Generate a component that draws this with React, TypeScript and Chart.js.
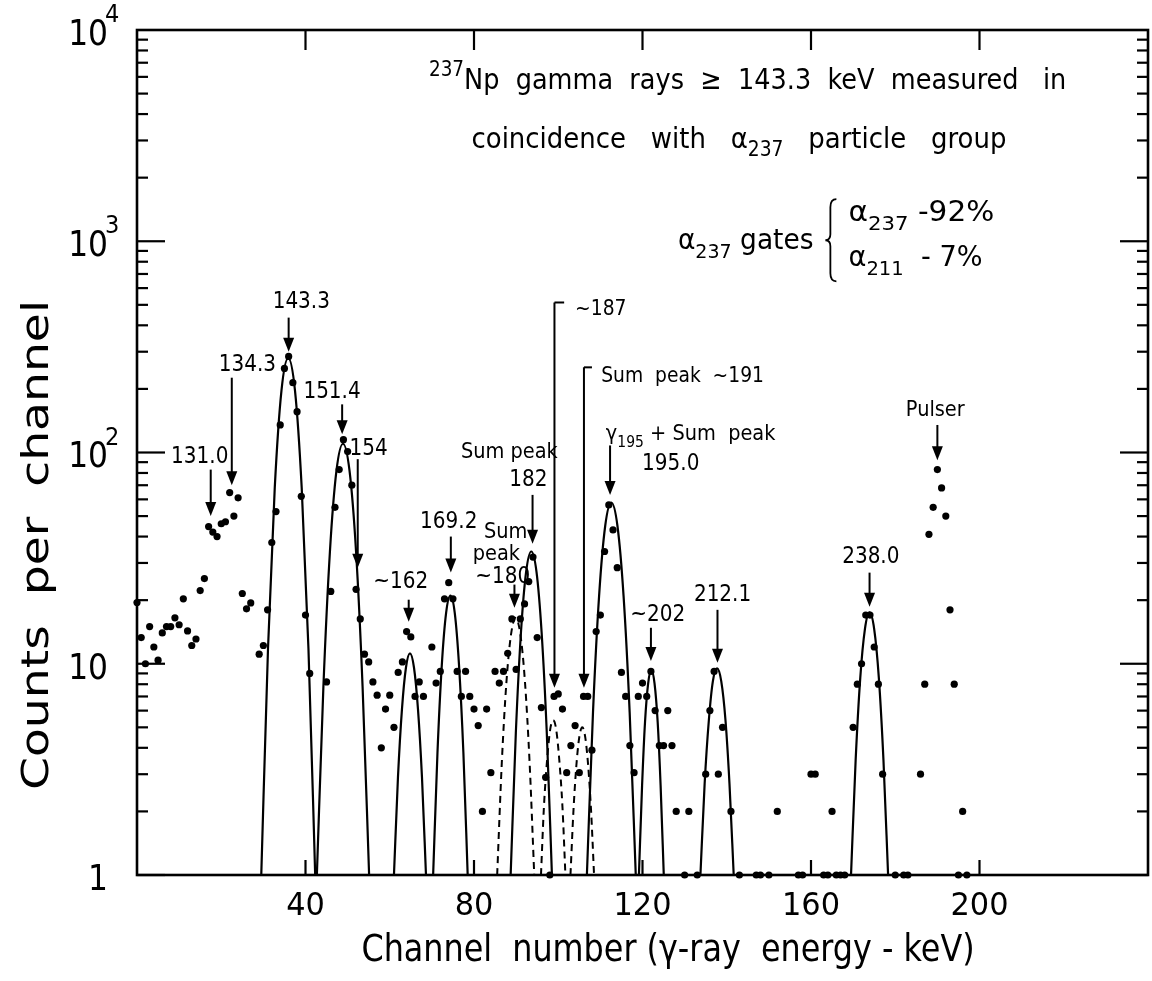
import React, { useEffect, useRef } from "react";
import { Chart, registerables } from "chart.js";
Chart.register(...registerables);

const FONT = '"DejaVu Sans", "Liberation Sans", sans-serif';

// ---- measured spectrum (channel, counts per channel) ----
const channels = [
  0, 1, 2, 3, 4, 5, 6, 7, 8, 9, 10, 11, 12, 13, 14, 15, 16, 17, 18, 19, 20, 21, 22, 23, 24, 25, 26, 27,
  29, 30, 31, 32, 33, 34, 35, 36, 37, 38, 39, 40, 41,
  45, 46, 47, 48, 49, 50, 51, 52, 53, 54, 55, 56, 57, 58, 59, 60, 61, 62, 63, 64, 65, 66, 67, 68,
  70, 71, 72, 73, 74, 75, 76, 77, 78, 79, 80, 81, 82, 83, 84, 85, 86, 87, 88, 89, 90, 91, 92, 93, 94,
  95, 96, 97, 98, 99, 100, 101, 102, 103, 104, 105, 106, 107, 108, 109, 110, 111, 112, 113, 114, 115,
  116, 117, 118, 119, 120, 121, 122, 123, 124, 125, 126, 127, 128, 130, 131, 133, 135, 136, 137, 138,
  139, 141, 143, 147, 148, 150, 152, 157, 158, 160, 161, 163, 164, 165, 166, 167, 168,
  170, 171, 172, 173, 174, 175, 176, 177, 180, 182, 183,
  186, 187, 188, 189, 190, 191, 192, 193, 194, 195, 196, 197,
];
const counts = [
  19.5, 13.3, 10, 15, 12, 10.4, 14, 15, 15, 16.5, 15.3, 20.3, 14.3, 12.2, 13.1, 22.2, 25.3, 44.6, 42, 40, 46, 47, 64.6, 50, 61, 21.5, 18.2, 19.4,
  11.1, 12.2, 18, 37.5, 52.5, 135, 250, 285, 214, 156, 62, 17, 9,
  8.2, 22, 55, 83, 115, 101, 70, 22.5, 16.3, 11.1, 10.2, 8.2, 7.1, 4.0, 6.1, 7.1, 5, 9.1, 10.2, 14.2, 13.4, 7.0, 8.2, 7.0,
  12, 8.1, 9.2, 20.3, 24.2, 20.3, 9.2, 7, 9.2, 7, 6.1, 5.1, 2.0, 6.1, 3.05, 9.2, 8.1, 9.2, 11.2, 16.3, 9.4, 16.3, 19.2, 24.5, 32,
  13.3, 6.2, 2.9, 1.0, 7.0, 7.2, 6.1, 3.05, 4.1, 5.1, 3.05, 7, 7, 3.9, 14.2, 17, 34, 56.5, 43, 28.5, 9.1,
  7, 4.1, 3.05, 7, 8.1, 7, 9.2, 6, 4.1, 4.1, 6, 4.1, 2, 1, 2, 1, 3, 6, 9.2, 3,
  5, 2, 1, 1, 1, 1, 2, 1, 1, 3, 3, 1, 1, 2, 1, 1, 1,
  5, 8, 10, 17, 17, 12, 8, 3, 1, 1, 1,
  3, 8, 41, 55, 83, 68, 50, 18, 8, 1, 2, 1,
];

// ---- fitted peak shapes (channel, counts) ----
const fit1433X = [29.5, 31.1, 32.7, 34.3, 35.9, 37.5, 39.1, 40.7, 42.3];
const fit1433Y = [1, 11.8, 68, 197, 280, 197, 68, 11.8, 1];
const fit1514X = [42.7, 44.25, 45.8, 47.35, 48.9, 50.45, 52.0, 53.55, 55.1];
const fit1514Y = [1, 7.8, 34, 82, 110, 82, 34, 7.8, 1];
const fit162X = [61.0, 61.95, 62.9, 63.85, 64.8, 65.75, 66.7, 67.65, 68.6];
const fit162Y = [1, 2.9, 6.1, 9.6, 11.2, 9.6, 6.1, 2.9, 1];
const fit1692X = [70.3, 71.33, 72.35, 73.38, 74.4, 75.43, 76.45, 77.48, 78.5];
const fit1692Y = [1, 3.8, 9.8, 17.4, 21, 17.4, 9.8, 3.8, 1];
const fit182X = [88.7, 89.93, 91.15, 92.38, 93.6, 94.83, 96.05, 97.28, 98.5];
const fit182Y = [1, 4.7, 14.1, 27.3, 34, 27.3, 14.1, 4.7, 1];
const fit195X = [106.8, 108.25, 109.7, 111.15, 112.6, 114.05, 115.5, 116.95, 118.4];
const fit195Y = [1, 5.9, 21, 45, 58, 45, 21, 5.9, 1];
const fit202X = [119.15, 119.9, 120.6, 121.35, 122.1, 122.85, 123.6, 124.3, 125.05];
const fit202Y = [1, 2.65, 5.3, 8.1, 9.3, 8.1, 5.3, 2.65, 1];
const fit2121X = [133.75, 134.75, 135.75, 136.7, 137.7, 138.7, 139.7, 140.65, 141.65];
const fit2121Y = [1, 2.7, 5.4, 8.25, 9.5, 8.25, 5.4, 2.7, 1];
const fit238X = [169.5, 170.6, 171.7, 172.8, 173.9, 175.0, 176.1, 177.2, 178.3];
const fit238Y = [1, 3.5, 8.6, 14.6, 17.5, 14.6, 8.6, 3.5, 1];
// dashed (sum peaks)
const fit180X = [85.5, 86.6, 87.7, 88.8, 89.9, 91.0, 92.1, 93.2, 94.3];
const fit180Y = [1, 3.4, 8.2, 13.8, 16.5, 13.8, 8.2, 3.4, 1];
const fit187X = [95.9, 96.6, 97.35, 98.1, 98.8, 99.5, 100.25, 101.0, 101.7];
const fit187Y = [1, 2.1, 3.5, 4.9, 5.4, 4.9, 3.5, 2.1, 1];
const fit191X = [102.9, 103.6, 104.3, 105.0, 105.7, 106.4, 107.1, 107.8, 108.5];
const fit191Y = [1, 2.0, 3.3, 4.5, 5.0, 4.5, 3.3, 2.0, 1];

const solidFits = [
  [fit1433X, fit1433Y], [fit1514X, fit1514Y], [fit162X, fit162Y], [fit1692X, fit1692Y],
  [fit182X, fit182Y], [fit195X, fit195Y], [fit202X, fit202Y], [fit2121X, fit2121Y], [fit238X, fit238Y],
];
const dashedFits = [[fit180X, fit180Y], [fit187X, fit187Y], [fit191X, fit191Y]];

// ---- axes ----
const xTickVals = [40, 80, 120, 160, 200];
const yTickVals = [1, 10, 100, 1000, 10000];
const yTickBase = ["1", "10", "10", "10", "10"];
const yTickSup = ["", "", "2", "3", "4"];

// ---- peak annotations (channel, counts) ----
const labelText = ["131.0", "134.3", "143.3", "151.4", "154", "~162", "169.2", "Sum", "peak", "~180",
  "Sum peak", "182", "~202", "212.1", "238.0", "Pulser"];
const labelX = [14.9, 26.2, 39.0, 46.3, 55.0, 62.6, 74.0, 87.5, 85.3, 86.8, 88.4, 92.9, 123.6, 139.0, 174.2, 189.5];
const labelY = [98, 267, 531, 199, 107, 25, 48, 43, 33.6, 26.4, 103, 76, 17.4, 21.7, 32.8, 163];

const arrowX = [17.5, 22.5, 36.0, 48.7, 52.4, 64.5, 74.5, 89.6, 93.9, 112.3, 122.0, 137.8, 173.9, 190.0];
const arrowTop = [83, 226, 435, 169, 93, 20.1, 40, 23.7, 63, 108, 14.8, 18, 27, 135];
const arrowTip = [50, 70, 300, 122, 28.5, 15.8, 27, 18.4, 37, 63, 10.3, 10.1, 18.6, 92];

const bracketX = [99.1, 106.1];
const bracketEnd = [101.4, 108.0];
const bracketTop = [513, 253];
const bracketTip = [7.7, 7.7];
const bracketLabel = ["~187", "Sum  peak  ~191"];
const bracketLabelX = [104.0, 110.2];
const bracketLabelY = [490, 234];

type Seg = { t: string; k?: "sub" | "sup" };

function segWidths(ctx: CanvasRenderingContext2D, segs: Seg[], size: number) {
  return segs.map((s) => {
    const fs = s.k ? size * 0.72 : size;
    ctx.font = `${fs}px ${FONT}`;
    return { ...s, fs, w: ctx.measureText(s.t).width };
  });
}

function drawSegs(
  ctx: CanvasRenderingContext2D, segs: Seg[], x: number, yc: number, size: number,
  sx: number, align: "left" | "center" | "right", fitW?: number
) {
  const items = segWidths(ctx, segs, size);
  const nat = items.reduce((a, b) => a + b.w, 0);
  if (fitW) sx = fitW / nat;
  const W = nat * sx;
  let cx = align === "center" ? x - W / 2 : align === "right" ? x - W : x;
  const base = yc + size * 0.36;
  for (const it of items) {
    ctx.save();
    ctx.font = `${it.fs}px ${FONT}`;
    ctx.textBaseline = "alphabetic";
    ctx.textAlign = "left";
    const dy = it.k === "sub" ? size * 0.3 : it.k === "sup" ? -size * 0.45 : 0;
    ctx.translate(cx, base + dy);
    ctx.scale(sx, 1);
    ctx.fillText(it.t, 0, 0);
    ctx.restore();
    cx += it.w * sx;
  }
}

function arrow(ctx: CanvasRenderingContext2D, x: number, y0: number, y1: number) {
  ctx.beginPath();
  ctx.moveTo(x, y0);
  ctx.lineTo(x, y1 - 10);
  ctx.stroke();
  ctx.beginPath();
  ctx.moveTo(x - 5.5, y1 - 14);
  ctx.lineTo(x + 5.5, y1 - 14);
  ctx.lineTo(x, y1);
  ctx.closePath();
  ctx.fill();
}

const decorPlugin = {
  id: "decor",
  afterDatasetsDraw(chart: any) {
    const { ctx, chartArea: a, scales } = chart;
    const X = (v: number) => scales.x.getPixelForValue(v);
    const Y = (v: number) => scales.y.getPixelForValue(v);
    const line = (x0: number, y0: number, x1: number, y1: number) => {
      ctx.beginPath(); ctx.moveTo(x0, y0); ctx.lineTo(x1, y1); ctx.stroke();
    };
    ctx.save();
    ctx.fillStyle = "#000";
    ctx.strokeStyle = "#000";
    ctx.lineCap = "butt";

    // frame
    ctx.lineWidth = 2.6;
    ctx.strokeRect(a.left, a.top, a.right - a.left, a.bottom - a.top);

    // y ticks (log), inward on both sides
    ctx.lineWidth = 2.2;
    for (let e = 0; e < 4; e++) {
      for (let m = 1; m < 10; m++) {
        const py = Y(m * Math.pow(10, e));
        const len = m === 1 ? 28 : 11;
        line(a.left, py, a.left + len, py);
        line(a.right, py, a.right - len, py);
      }
    }
    // x ticks inward bottom and top
    for (const v of xTickVals) {
      const px = X(v);
      line(px, a.bottom, px, a.bottom - 15);
      line(px, a.top, px, a.top + 20);
    }

    // x tick labels
    for (const v of xTickVals) {
      drawSegs(ctx, [{ t: String(v) }], X(v), a.bottom + 28, 32, 0.95, "center");
    }
    // y tick labels
    yTickVals.forEach((v, i) => {
      const py = Y(v);
      drawSegs(ctx, [{ t: yTickBase[i] }], a.left - 29, py + 2, 36, 0.87, "right");
      if (yTickSup[i]) drawSegs(ctx, [{ t: yTickSup[i] }], a.left - 32, py - 17, 25, 0.9, "left");
    });

    // axis titles
    drawSegs(ctx, [{ t: "Channel  number (γ-ray  energy - keV)" }], 668, 948, 37, 0.86, "center");
    ctx.save();
    ctx.translate(34, 545);
    ctx.rotate(-Math.PI / 2);
    drawSegs(ctx, [{ t: "Counts  per  channel" }], 0, 0, 38, 1.0, "center", 490);
    ctx.restore();

    // peak labels
    labelText.forEach((t, i) => {
      const small = t === "Sum" || t === "peak" || t === "Sum peak" || t === "Pulser";
      drawSegs(ctx, [{ t }], X(labelX[i]), Y(labelY[i]), small ? 22 : 23, small ? 0.88 : 0.87, "center");
    });
    // gamma 195 label
    drawSegs(ctx, [{ t: "γ" }, { t: "195", k: "sub" }, { t: " + Sum  peak" }], X(111.3), Y(125), 22, 0.88, "left");
    drawSegs(ctx, [{ t: "195.0" }], X(119.9), Y(90.6), 23, 0.87, "left");

    // arrows
    ctx.lineWidth = 2;
    arrowX.forEach((v, i) => arrow(ctx, X(v), Y(arrowTop[i]), Y(arrowTip[i])));
    // brackets
    bracketX.forEach((v, i) => {
      const px = X(v);
      const pt = Y(bracketTop[i]);
      line(px, pt, X(bracketEnd[i]), pt);
      arrow(ctx, px, pt, Y(bracketTip[i]));
      drawSegs(ctx, [{ t: bracketLabel[i] }], X(bracketLabelX[i]), Y(bracketLabelY[i]), 22, 0.85, "left");
    });

    // header text
    drawSegs(ctx, [{ t: "237", k: "sup" }, { t: "Np  gamma  rays  ≥  143.3  keV  measured   in" }],
      X(69.3), Y(5860), 29, 1, "left", X(220.6) - X(69.3));
    drawSegs(ctx, [{ t: "coincidence   with   α" }, { t: "237", k: "sub" }, { t: "   particle   group" }],
      X(79.4), Y(3110), 29, 1, "left", X(206.4) - X(79.4));
    drawSegs(ctx, [{ t: "α" }, { t: "237", k: "sub" }, { t: " gates" }], X(128.4), Y(1022), 28, 1, "left", X(160.6) - X(128.4));
    drawSegs(ctx, [{ t: "α" }, { t: "237", k: "sub" }, { t: " -92%" }], X(168.9), Y(1387), 28, 1, "left", X(203.5) - X(168.9));
    drawSegs(ctx, [{ t: "α" }, { t: "211", k: "sub" }, { t: "  - 7%" }], X(168.9), Y(849), 28, 1, "left", X(200.7) - X(168.9));
    // brace
    {
      const bx = X(164.6), y0 = Y(1582), y1 = Y(646), ym = (y0 + y1) / 2;
      ctx.lineWidth = 1.8;
      ctx.beginPath();
      ctx.moveTo(bx + 6, y0);
      ctx.quadraticCurveTo(bx, y0, bx, y0 + 8);
      ctx.lineTo(bx, ym - 6);
      ctx.quadraticCurveTo(bx, ym, bx - 5, ym);
      ctx.quadraticCurveTo(bx, ym, bx, ym + 6);
      ctx.lineTo(bx, y1 - 8);
      ctx.quadraticCurveTo(bx, y1, bx + 6, y1);
      ctx.stroke();
    }
    ctx.restore();
  },
};

export default function App() {
  const ref = useRef<HTMLCanvasElement | null>(null);
  useEffect(() => {
    document.body.style.margin = "0";
    const canvas = ref.current!;
    const datasets: any[] = [
      {
        type: "scatter",
        data: channels.map((c, i) => ({ x: c, y: counts[i] })),
        pointRadius: 3.6,
        pointBackgroundColor: "#000",
        pointBorderWidth: 0,
        showLine: false,
        clip: false,
        order: 0,
      },
    ];
    solidFits.forEach(([xs, ys]) =>
      datasets.push({
        type: "line",
        data: xs.map((x, i) => ({ x, y: ys[i] })),
        borderColor: "#000",
        borderWidth: 2.2,
        pointRadius: 0,
        fill: false,
        cubicInterpolationMode: "monotone",
        clip: false,
        order: 1,
      })
    );
    dashedFits.forEach(([xs, ys]) =>
      datasets.push({
        type: "line",
        data: xs.map((x, i) => ({ x, y: ys[i] })),
        borderColor: "#000",
        borderWidth: 2,
        borderDash: [7, 5],
        pointRadius: 0,
        fill: false,
        cubicInterpolationMode: "monotone",
        clip: false,
        order: 1,
      })
    );
    const chart = new Chart(canvas, {
      type: "scatter",
      data: { datasets },
      options: {
        responsive: false,
        animation: false,
        devicePixelRatio: 1,
        events: [],
        layout: { padding: { left: 137, right: 2, top: 30, bottom: 106 } },
        scales: {
          x: { type: "linear", min: 0, max: 240, display: false },
          y: { type: "logarithmic", min: 1, max: 10000, display: false },
        },
        plugins: { legend: { display: false }, tooltip: { enabled: false } },
      },
      plugins: [decorPlugin],
    } as any);
    return () => chart.destroy();
  }, []);
  return <canvas ref={ref} width={1152} height={981} style={{ display: "block", background: "#fff" }} />;
}
